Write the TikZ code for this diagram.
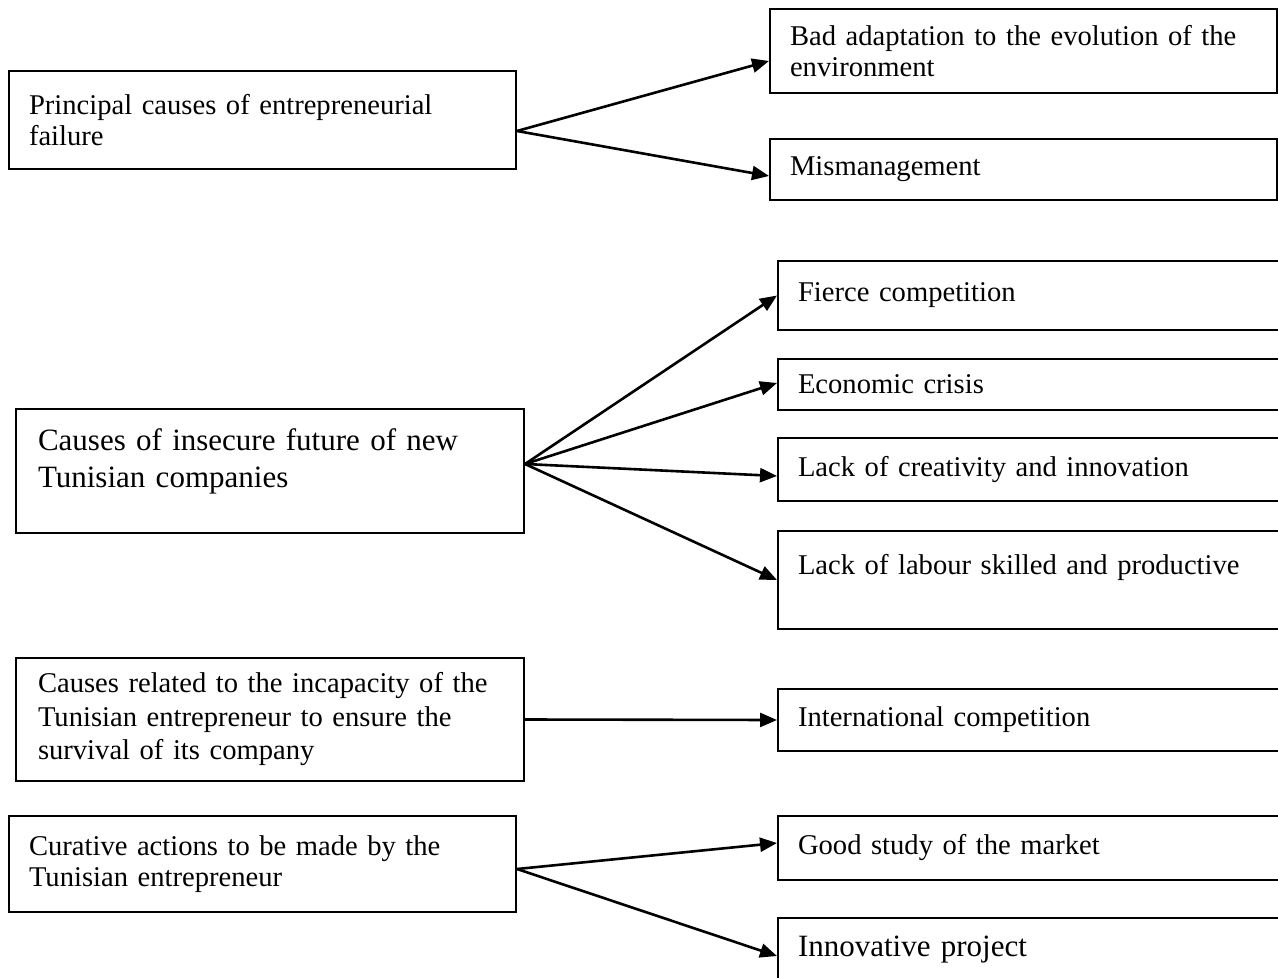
\documentclass[tikz,border=0pt]{standalone}
\usepackage{fontspec}
\setmainfont{Liberation Serif}
\usetikzlibrary{arrows.meta}
\tikzset{cause/.style={draw, rectangle, anchor=north west, align=left, line width=1pt,
    inner xsep=10pt, inner ysep=0pt, text width=233.5pt, font=\fontsize{14.3}{15.5}\selectfont}}
\tikzset{effect/.style={cause, text width=260pt}}
\tikzset{link/.style={-{Triangle[length=8.5pt,width=7pt]}, line width=1.3pt}}

\begin{document}
\begin{tikzpicture}[x=0.5pt, y=-0.5pt]
\useasboundingbox (0,0) rectangle (1278,978);
\clip (0,0) rectangle (1278,978);

% principal causes
\node[cause, minimum height=49pt] (principal) at (8,70) {Principal causes of entrepreneurial\\failure};
\node[cause, minimum height=42pt] (adapt) at (769,8) {Bad adaptation to the evolution of the\\environment};
\node[cause, minimum height=30.5pt] (mismgmt) at (769,138) {Mismanagement};
\draw[link] ([yshift=-5.5pt]principal.east) -- ([yshift=-5pt]adapt.west);
\draw[link] ([yshift=-5.5pt]principal.east) -- ([yshift=-3.25pt]mismgmt.west);

% insecure future
\node[cause, inner xsep=11pt, text width=232pt, minimum height=62pt,
  font=\fontsize{15.5}{18.5}\selectfont] (insecure) at (15,408)
  {Causes of insecure future of new\\Tunisian companies\\[-6pt]\mbox{}};
\node[effect, minimum height=34.5pt] (fierce) at (777,260) {Fierce competition};
\node[effect, minimum height=25.5pt] (crisis) at (777,358) {Economic crisis};
\node[effect, minimum height=31.5pt] (creativity) at (777,437) {Lack of creativity and innovation};
\node[effect, minimum height=49pt] (labour) at (777,530) {Lack of labour skilled and productive\\\mbox{}};
\foreach \t/\s in {fierce/0pt, crisis/0.75pt, creativity/-3.25pt, labour/0pt}
  \draw[link] ([yshift=3.5pt]insecure.east) -- ([yshift=\s]\t.west);

% incapacity
\node[cause, inner xsep=11pt, text width=232pt, minimum height=61.5pt,
  font=\fontsize{14.3}{16.75}\selectfont] (incapacity) at (15,657)
  {Causes related to the incapacity of the\\Tunisian entrepreneur to ensure the\\survival of its company};
\node[effect, minimum height=31pt] (intl) at (777,688) {International competition};
\draw[link] (incapacity.east) -- (intl.west);

% curative actions
\node[cause, minimum height=48pt] (curative) at (8,815) {Curative actions to be made by the\\Tunisian entrepreneur};
\node[effect, minimum height=32pt] (market) at (777,815) {Good study of the market};
\node[effect, minimum height=32pt, font=\fontsize{15.5}{18.5}\selectfont] (project) at (777,917) {Innovative project};
\draw[link] ([yshift=-2.5pt]curative.east) -- ([yshift=2.5pt]market.west);
\draw[link] ([yshift=-2.5pt]curative.east) -- ([yshift=-3pt]project.west);
\end{tikzpicture}
\end{document}
